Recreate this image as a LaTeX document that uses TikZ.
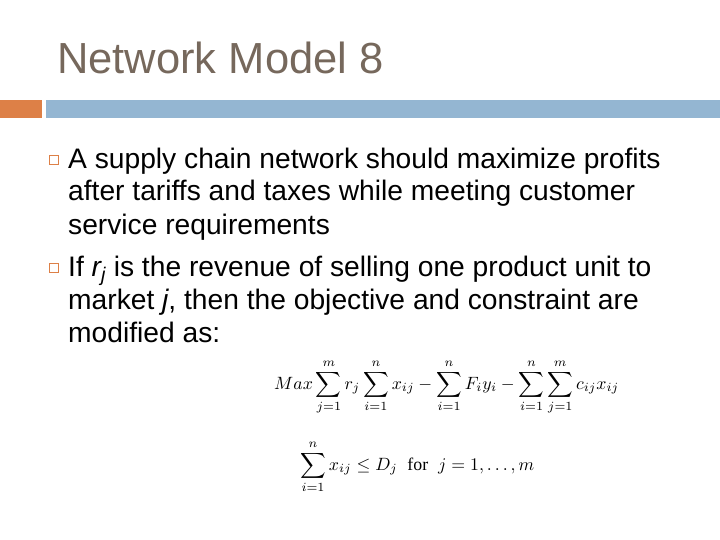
\documentclass[tikz,border=0pt]{standalone}
\usepackage{fontspec}
\setmainfont{Liberation Sans}
\newfontfamily\tms{Liberation Serif}
\definecolor{titlec}{RGB}{118,104,92}
\definecolor{orangec}{RGB}{221,128,71}
\definecolor{bluec}{RGB}{148,182,210}
\begin{document}
\begin{tikzpicture}[x=1pt,y=-1pt,
  body/.style={anchor=base west,inner sep=0pt,font=\fontsize{28.2}{33}\selectfont,align=left},
  bul/.style={draw=orangec,line width=1.2pt,minimum size=9pt,inner sep=0pt}]
\useasboundingbox (0,0) rectangle (720,540);
\node[anchor=base west,inner sep=0pt,text=titlec,font=\fontsize{43.5}{45}\selectfont] (title) at (57,74) {Network Model 8};
\fill[orangec] (0,100) rectangle (42,118);
\fill[bluec] (46,100) rectangle (720,118);
\node[bul] (b1) at (54,160) {};
\node[bul] (b2) at (54,268) {};
\node[body] (t1) at (68,234) {A supply chain network should maximize profits\\after tariffs and taxes while meeting customer\\service requirements};
\node[body] (t2) at (68,342) {If \textit{r\textsubscript{j}} is the revenue of selling one product unit to\\market \textit{j}, then the objective and constraint are\\modified as:};
\node[anchor=base west,inner sep=0pt] (f1) at (274,389)
 {\scalebox{1.78}{$\displaystyle Max\sum_{j=1}^{m} r_j\sum_{i=1}^{n} x_{ij}-\sum_{i=1}^{n}F_iy_i-\sum_{i=1}^{n}\sum_{j=1}^{m}c_{ij}x_{ij}$}};
\node[anchor=base west,inner sep=0pt] (f2) at (300,470)
 {\scalebox{1.78}{$\displaystyle \sum_{i=1}^{n} x_{ij}\le D_j$\ \ {\tms for}\ \ $j=1,\ldots,m$}};
\end{tikzpicture}
\end{document}
